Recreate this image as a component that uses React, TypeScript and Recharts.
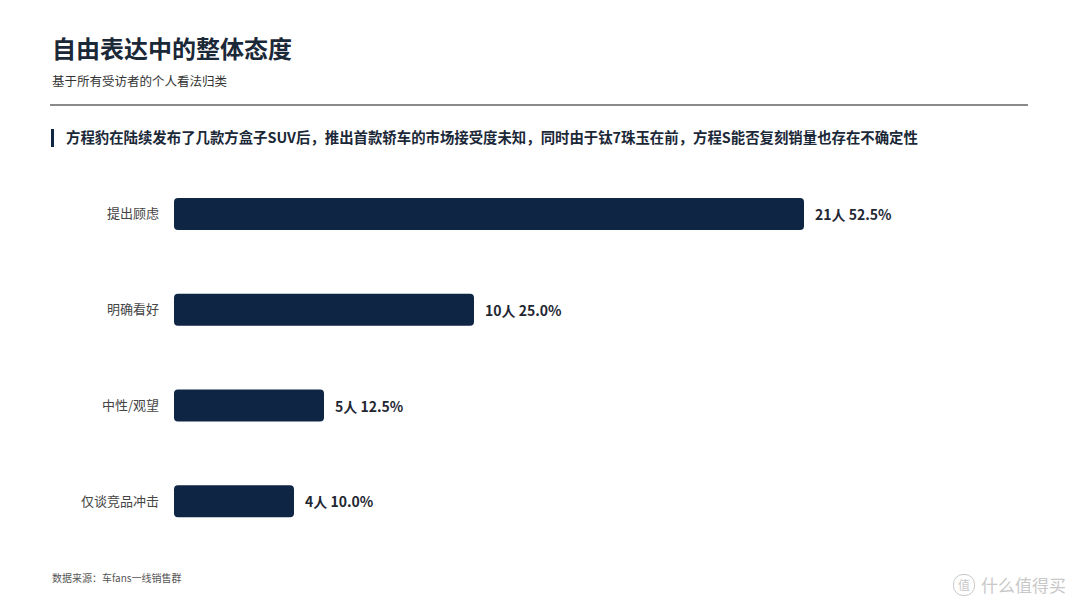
import React from 'react';
import { BarChart, Bar, XAxis, YAxis, LabelList, Cell } from 'recharts';

const categories = ['提出顾虑', '明确看好', '中性/观望', '仅谈竞品冲击'];
const counts = [21, 10, 5, 4];
const percents = [52.5, 25.0, 12.5, 10.0];

const NAVY = '#0e2544';
const FONT = '"Noto Sans CJK SC", "Noto Sans", sans-serif';

const data = categories.map((name, i) => ({
  name,
  count: counts[i],
  pct: percents[i],
}));

const ValueLabel = (props: any) => {
  const { x, y, width, height, index } = props;
  const d = data[index];
  return (
    <text
      x={x + width + 11}
      y={y + height / 2}
      dominantBaseline="central"
      fill="#1f2733"
      fontSize={14}
      fontWeight={700}
      fontFamily={FONT}
    >
      {`${d.count}人 ${d.pct.toFixed(1)}%`}
    </text>
  );
};

export default function App() {
  return (
    <div
      style={{
        position: 'fixed',
        left: 0,
        top: 0,
        width: 1080,
        height: 608,
        background: '#fff',
        fontFamily: FONT,
        overflow: 'hidden',
      }}
    >
      <div style={{ position: 'absolute', left: 52, top: 32, fontSize: 24, fontWeight: 700, color: '#1b2838', lineHeight: '32px' }}>
        自由表达中的整体态度
      </div>
      <div style={{ position: 'absolute', left: 52, top: 72, fontSize: 12.5, color: '#333', lineHeight: '18px' }}>
        基于所有受访者的个人看法归类
      </div>
      <div style={{ position: 'absolute', left: 50, top: 104, width: 978, height: 2, background: '#8a8a8a' }} />
      <div style={{ position: 'absolute', left: 51, top: 129, width: 3, height: 18, background: NAVY }} />
      <div style={{ position: 'absolute', left: 66, top: 127, fontSize: 14.4, fontWeight: 700, color: '#1b2838', lineHeight: '20px', whiteSpace: 'nowrap' }}>
        方程豹在陆续发布了几款方盒子SUV后，推出首款轿车的市场接受度未知，同时由于钛7珠玉在前，方程S能否复刻销量也存在不确定性
      </div>

      <div style={{ position: 'absolute', left: 0, top: 0 }}>
        <BarChart
          width={1080}
          height={608}
          data={data}
          layout="vertical"
          margin={{ top: 166, right: 156, bottom: 59, left: 0 }}
          barCategoryGap={32}
        >
          <XAxis type="number" domain={[0, 25]} hide />
          <YAxis
            type="category"
            dataKey="name"
            width={174}
            axisLine={false}
            tickLine={false}
            tickSize={0}
            tickMargin={15}
            tick={{ fill: '#444', fontSize: 13, fontFamily: FONT }}
          />
          <Bar dataKey="count" barSize={32} radius={4} isAnimationActive={false}>
            {data.map((d, i) => (
              <Cell key={`c-${i}`} fill={NAVY} />
            ))}
            <LabelList dataKey="count" content={ValueLabel} />
          </Bar>
        </BarChart>
      </div>

      <div style={{ position: 'absolute', left: 52, top: 571, fontSize: 10, color: '#555', lineHeight: '14px' }}>
        数据来源：车fans一线销售群
      </div>
      <div style={{ position: 'absolute', left: 953, top: 572, display: 'flex', alignItems: 'center', color: '#c8c8c8' }}>
        <div
          style={{
            width: 20,
            height: 20,
            borderRadius: 10,
            border: '1.5px solid #c8c8c8',
            fontSize: 12,
            lineHeight: '20px',
            textAlign: 'center',
            marginRight: 6,
          }}
        >
          值
        </div>
        <span style={{ fontSize: 17 }}>什么值得买</span>
      </div>
    </div>
  );
}
